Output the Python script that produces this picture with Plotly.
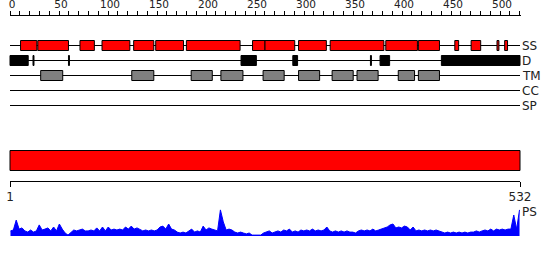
import plotly.graph_objects as go

# ---------------- data ----------------
seq_len = 532
ruler_ticks = list(range(0, 521, 10))
ruler_labels = [str(v) if v % 50 == 0 else "" for v in ruler_ticks]

track_names = ["SS", "D", "TM", "CC", "SP"]

ss_start = [12, 30, 74, 97, 130, 153, 185, 254, 267, 302, 335, 393, 427, 465, 482, 509, 517]
ss_end   = [28, 61, 88, 125, 150, 181, 240, 266, 297, 330, 390, 425, 448, 468, 491, 510, 519]

d_start = [1, 25, 62, 242, 296, 377, 387, 451]
d_end   = [19, 25, 62, 257, 300, 377, 396, 532]

tm_start = [33, 128, 190, 221, 265, 302, 337, 363, 406, 427]
tm_end   = [55, 150, 211, 243, 286, 323, 358, 384, 422, 448]

domain_start = [1]
domain_end = [532]
domain_labels = ["1", "532"]

ps_residue = list(range(1, 533, 3))
ps_score = [
    0.17, 0.20, 0.53, 0.23, 0.27, 0.17, 0.13, 0.20, 0.13, 0.17,
    0.37, 0.20, 0.23, 0.27, 0.17, 0.30, 0.17, 0.40, 0.23, 0.10,
    0.03, 0.13, 0.20, 0.17, 0.20, 0.23, 0.17, 0.17, 0.20, 0.17,
    0.27, 0.17, 0.30, 0.17, 0.30, 0.20, 0.23, 0.20, 0.23, 0.20,
    0.30, 0.23, 0.33, 0.23, 0.27, 0.23, 0.17, 0.20, 0.17, 0.20,
    0.17, 0.20, 0.30, 0.33, 0.23, 0.40, 0.23, 0.20, 0.13, 0.10,
    0.13, 0.10, 0.17, 0.23, 0.13, 0.17, 0.13, 0.33, 0.20, 0.27,
    0.23, 0.20, 0.17, 0.87, 0.47, 0.20, 0.23, 0.20, 0.13, 0.10,
    0.13, 0.10, 0.07, 0.10, 0.03, 0.03, 0.03, 0.03, 0.10, 0.13,
    0.17, 0.10, 0.13, 0.17, 0.13, 0.20, 0.17, 0.23, 0.13, 0.17,
    0.13, 0.20, 0.17, 0.20, 0.17, 0.23, 0.17, 0.20, 0.17, 0.20,
    0.30, 0.17, 0.13, 0.17, 0.13, 0.17, 0.13, 0.17, 0.13, 0.13,
    0.10, 0.17, 0.20, 0.17, 0.20, 0.17, 0.23, 0.17, 0.20, 0.23,
    0.27, 0.30, 0.37, 0.40, 0.27, 0.30, 0.27, 0.33, 0.30, 0.20,
    0.30, 0.17, 0.20, 0.17, 0.20, 0.17, 0.20, 0.17, 0.20, 0.17,
    0.13, 0.10, 0.13, 0.10, 0.13, 0.10, 0.13, 0.10, 0.13, 0.10,
    0.13, 0.13, 0.17, 0.13, 0.17, 0.20, 0.17, 0.23, 0.17, 0.23,
    0.20, 0.23, 0.20, 0.23, 0.23, 0.70, 0.23, 0.87,
]

# ---------------- layout constants ----------------
W, H = 550, 260
X0_PX, X1_PX = 10, 520
s = (X1_PX - X0_PX) / seq_len
x_range = [-X0_PX / s, seq_len + (W - X1_PX) / s]

track_y = {"SS": 45.5, "D": 60.5, "TM": 75.5, "CC": 90.5, "SP": 105.5}
half_box = 5
FONT = "DejaVu Sans"
TXT = "#222222"

fig = go.Figure()

shapes = []
# track baselines
for name in track_names:
    y = track_y[name]
    shapes.append(dict(type="line", xref="x", yref="y", x0=0, x1=seq_len, y0=y, y1=y,
                       line=dict(color="black", width=1)))


def boxes(starts, ends, y, fill):
    for a, b in zip(starts, ends):
        shapes.append(dict(type="rect", xref="x", yref="y", x0=a - 1, x1=b,
                           y0=y - half_box, y1=y + half_box,
                           fillcolor=fill, line=dict(color="black", width=1)))


boxes(ss_start, ss_end, track_y["SS"], "#ff0000")
boxes(d_start, d_end, track_y["D"], "#000000")
boxes(tm_start, tm_end, track_y["TM"], "#808080")

# domain bar
for a, b in zip(domain_start, domain_end):
    shapes.append(dict(type="rect", xref="x", yref="y", x0=a - 1, x1=b, y0=150.5, y1=170.5,
                       fillcolor="#ff0000", line=dict(color="black", width=1)))

annotations = []
for name in track_names:
    annotations.append(dict(x=seq_len, y=track_y[name], xref="x", yref="y", text=name,
                            showarrow=False, xanchor="left", yanchor="middle", xshift=0,
                            font=dict(family=FONT, size=12, color=TXT)))
annotations.append(dict(x=seq_len, y=212, xref="x", yref="y", text="PS",
                        showarrow=False, xanchor="left", yanchor="middle", xshift=0,
                        font=dict(family=FONT, size=12, color=TXT)))

# PS profile
fig.add_trace(go.Scatter(
    x=[r - 0.5 for r in ps_residue], y=ps_score, xaxis="x", yaxis="y2",
    mode="lines", fill="tozeroy", fillcolor="#0000ff",
    line=dict(color="#0000ff", width=1), showlegend=False, hoverinfo="skip"))

# dummy traces to create ruler subplots
fig.add_trace(go.Scatter(x=[None], y=[None], xaxis="x2", yaxis="y", showlegend=False, hoverinfo="skip"))
fig.add_trace(go.Scatter(x=[None], y=[None], xaxis="x3", yaxis="y", showlegend=False, hoverinfo="skip"))

ruler_px_per_res = 0.98
ruler_end_px = 521

fig.update_layout(
    width=W, height=H, margin=dict(l=0, r=0, t=0, b=0, pad=0, autoexpand=False),
    paper_bgcolor="white", plot_bgcolor="rgba(0,0,0,0)",
    showlegend=False,
    shapes=shapes, annotations=annotations,
    xaxis=dict(domain=[0, 1], range=x_range, visible=False, fixedrange=True),
    yaxis=dict(domain=[0, 1], range=[H, 0], visible=False, fixedrange=True),
    yaxis2=dict(domain=[1 - 236 / H, 1 - 206 / H], range=[0, 1], visible=False,
                anchor="x", fixedrange=True),
    xaxis2=dict(domain=[X0_PX / W, ruler_end_px / W],
                range=[0, (ruler_end_px - X0_PX) / ruler_px_per_res],
                anchor="free", position=1 - 14.5 / H, side="top",
                showline=True, linecolor="black", linewidth=1,
                ticks="outside", ticklen=4, tickwidth=1, tickcolor="black",
                tickmode="array", tickvals=ruler_ticks, ticktext=ruler_labels,
                ticklabelshift=2, ticklabelstandoff=-2,
                tickfont=dict(family=FONT, size=10.5, color=TXT),
                showgrid=False, zeroline=False, fixedrange=True, automargin=False),
    xaxis3=dict(domain=[X0_PX / W, X1_PX / W], range=[1, seq_len],
                anchor="free", position=1 - 180.5 / H, side="bottom",
                showline=True, linecolor="black", linewidth=1,
                ticks="outside", ticklen=5, tickwidth=1, tickcolor="black",
                tickmode="array", tickvals=[1, seq_len], ticktext=domain_labels,
                tickfont=dict(family=FONT, size=12, color=TXT),
                showgrid=False, zeroline=False, fixedrange=True, automargin=False),
)

fig.write_html("out.html")
